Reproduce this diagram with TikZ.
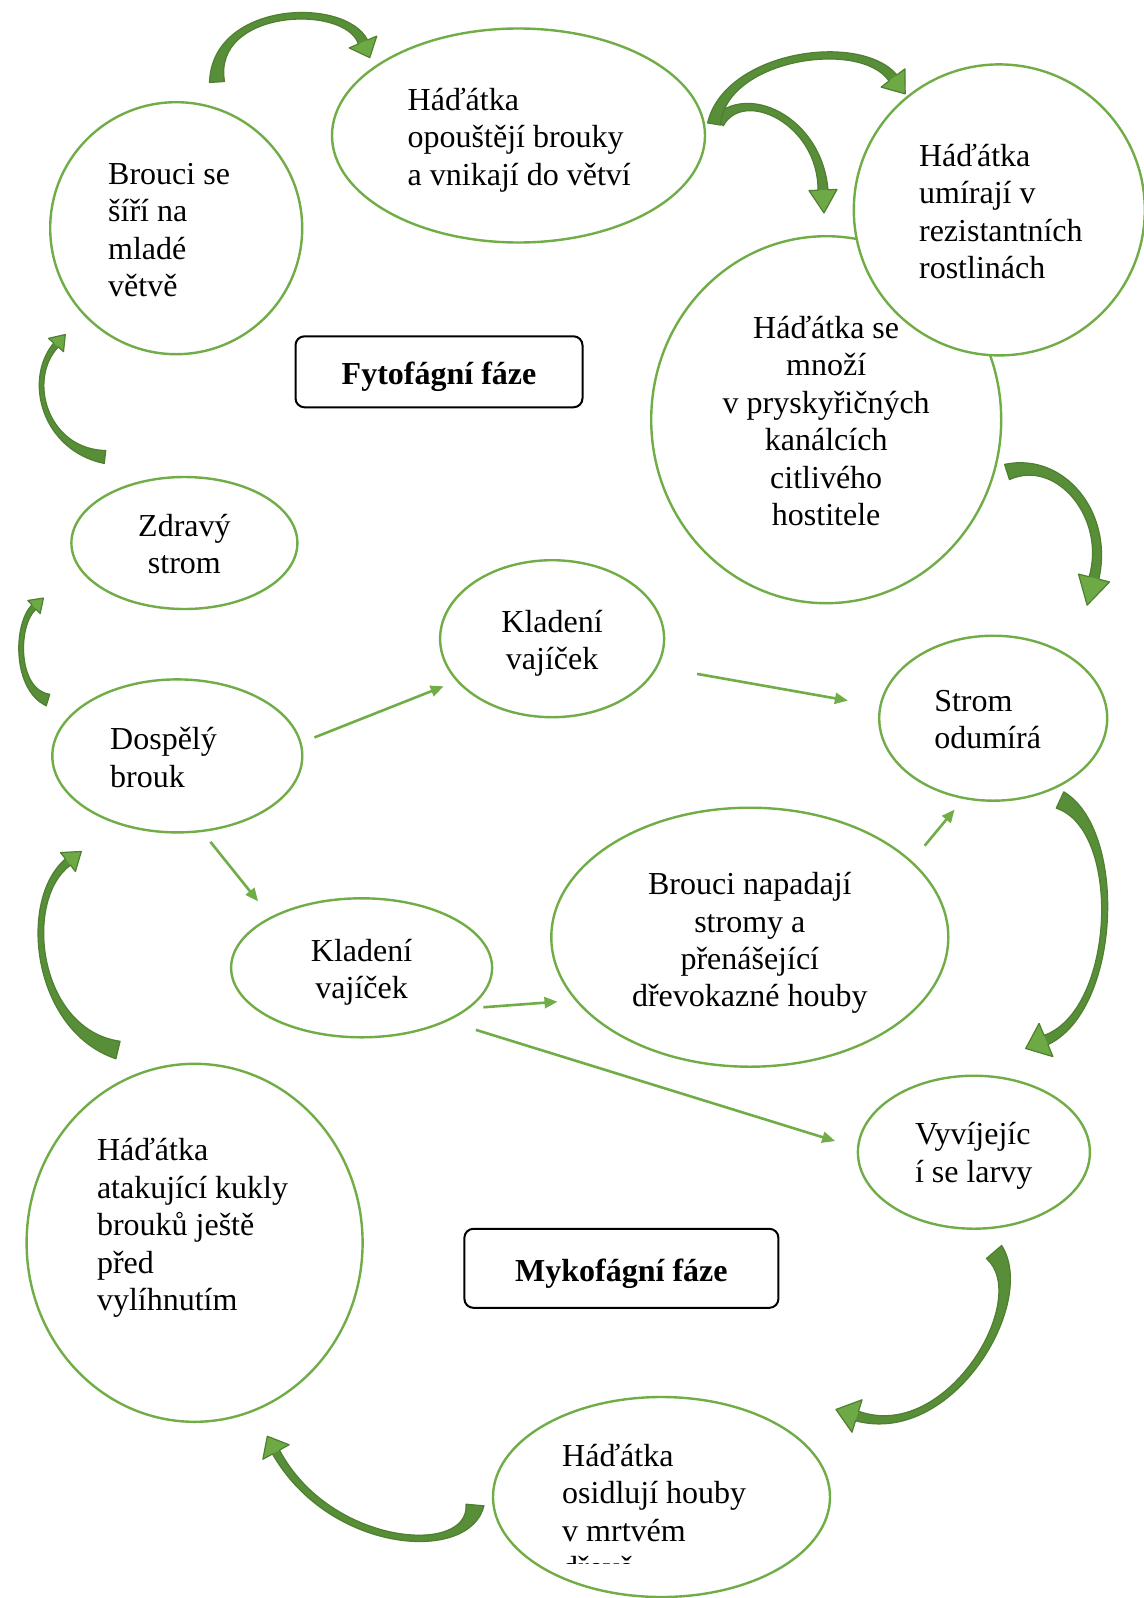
\documentclass[tikz,border=0pt]{standalone}
\usepackage{fontspec}
\setmainfont{Liberation Serif}
\usetikzlibrary{shapes.geometric,arrows.meta,calc}
\definecolor{lg}{HTML}{70AD47}
\definecolor{dg}{HTML}{578E37}
\definecolor{hg}{HTML}{6DAA45}
\definecolor{eg}{HTML}{4F7F30}
\tikzset{
 ell/.style={ellipse, draw=lg, line width=2.4pt, fill=white, inner sep=0pt, outer sep=0pt},
 txt/.style={inner sep=0pt, font=\fontsize{32}{37.4}\selectfont},
 phase/.style={draw=black, line width=2pt, rounded corners=9pt, inner sep=0pt, text height=26.5pt, text depth=0.5pt, font=\fontsize{32}{36}\selectfont\bfseries},
 conn/.style={draw=lg, line width=2.6pt, -{Triangle[length=13pt,width=11pt]}},
 bodyfill/.style={fill=dg},
 headfill/.style={fill=hg},
 arrowline/.style={draw=eg, line width=1.2pt, line join=round},
}
% curved block arrow: start, c1, c2, head base, tail half width, neck half width, head half width, head length, middle half width
\newcommand\crv[9]{%
  \def\crvpath{($(#1)!#5!90:(#2)$) .. controls ($(#2)!#9!90:(#3)$) and ($(#3)!#9!-90:(#2)$) .. ($(#4)!#6!-90:(#3)$)
   -- ($(#4)!#7!-90:(#3)$) -- ($(#4)!-#8!(#3)$) -- ($(#4)!#7!90:(#3)$) -- ($(#4)!#6!90:(#3)$)
   .. controls ($(#3)!#9!90:(#2)$) and ($(#2)!#9!-90:(#3)$) .. ($(#1)!#5!-90:(#2)$) -- cycle}%
  \fill[bodyfill] \crvpath;
  \fill[headfill] ($(#4)!#7!-90:(#3)$) -- ($(#4)!-#8!(#3)$) -- ($(#4)!#7!90:(#3)$) -- cycle;
  \draw[arrowline] \crvpath;
}
\begin{document}
\begin{tikzpicture}[x=1pt,y=-1pt]
\useasboundingbox (0,0) rectangle (1143,1598);
\fill[white] (0,0) rectangle (1143,1598);

% ellipses
\node[ell, minimum width=252pt, minimum height=252pt] (e1) at (176.2,228.2) {};
\node[ell, minimum width=373pt, minimum height=214pt] (e2) at (518.5,135.5) {};
\node[ell, minimum width=350pt, minimum height=367pt] (e4) at (826.2,419.7) {};
\node[ell, minimum width=291pt, minimum height=291pt] (e3) at (999.3,209.9) {};
\node[phase, minimum width=287pt, minimum height=71pt] (p1) at (439,371.8) {Fytofágní fáze};
\node[ell, minimum width=226pt, minimum height=132pt] (e6) at (184.4,543) {};
\node[ell, minimum width=224pt, minimum height=157pt] (e7) at (552.1,638.7) {};
\node[ell, minimum width=228pt, minimum height=165pt] (e8) at (993.2,718.2) {};
\node[ell, minimum width=250pt, minimum height=153pt] (e9) at (177.3,755.9) {};
\node[ell, minimum width=261pt, minimum height=139pt] (e10) at (361.6,967.8) {};
\node[ell, minimum width=397pt, minimum height=259pt] (e11) at (749.8,937.2) {};
\node[ell, minimum width=232pt, minimum height=153pt] (e12) at (973.9,1152.2) {};
\node[ell, minimum width=336pt, minimum height=358pt] (e13) at (194.6,1242.8) {};
\node[phase, minimum width=314pt, minimum height=79pt] (p2) at (621.4,1268.3) {Mykofágní fáze};
\node[ell, minimum width=337pt, minimum height=200pt] (e15) at (661.5,1497) {};

% texts
\node[txt, anchor=west, align=left] (t1) at (108,230) {Brouci se\\šíří na\\mladé\\větvě};
\node[txt, anchor=west, align=left] (t2) at (407.5,140) {Háďátka\\opouštějí brouky\\a vnikají do větví};
\node[txt, anchor=west, align=left] (t3) at (918.9,211.5) {Háďátka\\umírají v\\rezistantních\\rostlinách};
\node[txt, align=center] (t4) at (826.2,421) {Háďátka se\\množí\\v pryskyřičných\\kanálcích\\citlivého\\hostitele};
\node[txt, align=center] (t6) at (184.4,544) {Zdravý\\strom};
\node[txt, align=center] (t7) at (552.1,643.5) {Kladení\\vajíček};
\node[txt, anchor=west, align=left] (t8) at (934.1,719.5) {Strom\\odumírá};
\node[txt, anchor=west, align=left] (t9) at (110,757.4) {Dospělý\\brouk};
\node[txt, align=center] (t10) at (361.6,972.5) {Kladení\\vajíček};
\node[txt, align=center] (t11) at (749.8,943.2) {Brouci napadají\\stromy a\\přenášející\\dřevokazné houby};
\node[txt, anchor=west, align=left] (t12) at (914.8,1156) {Vyvíjejíc\\í se larvy};
\node[txt, anchor=west, align=left] (t13) at (96.8,1228) {Háďátka\\atakující kukly\\brouků ještě\\před\\vylíhnutím};
\begin{scope}
\clip (480,1390) rectangle (840,1563);
\node[txt, anchor=north west, align=left] (t15) at (562,1444) {Háďátka\\osidlují houby\\v mrtvém\\dřevě};
\end{scope}

% straight connectors
\draw[conn, shorten <=15pt, shorten >=15pt] (e9.6) -- (e7.204);
\draw[conn, shorten <=41pt, shorten >=33pt] (e7.-15) -- (e8.174);
\draw[conn, shorten <=14pt, shorten >=21pt] (e9.-72) -- (e10.151);
\draw[conn, shorten <=16pt, shorten >=19pt] (e10.-21) -- (e11.200);
\draw[conn, shorten <=31pt, shorten >=24pt] (e10.-32) -- (e12.178);
\draw[conn, shorten <=21pt, shorten >=15pt] (e11.25) -- (e8.250);

% curved block arrows
\crv{217,82}{212,5}{345,0}{363,42}{7.5pt}{5pt}{15pt}{17pt}{4pt}
\crv{718,122}{745,85}{820,120}{823,190}{6.5pt}{5pt}{14pt}{23pt}{4pt}
\crv{714,124}{725,55}{860,35}{893,78}{6.5pt}{5pt}{15pt}{20pt}{4pt}
\crv{1007,472}{1060,455}{1110,515}{1094,578}{8pt}{5pt}{16pt}{28pt}{5pt}
\crv{1060,800}{1125,830}{1118,1010}{1046,1040}{9pt}{5pt}{18pt}{22pt}{3pt}
\crv{994,1252}{1035,1300}{950,1445}{857,1416}{10pt}{5pt}{17pt}{22pt}{4pt}
\crv{475,1505}{470,1560}{330,1550}{276,1452}{9pt}{4pt}{15pt}{18pt}{4pt}
\crv{118,1050}{35,1030}{20,900}{68,862}{9pt}{4pt}{12pt}{17pt}{3pt}
\crv{48,700}{15,690}{15,625}{34,607}{6pt}{3pt}{9pt}{13pt}{2.5pt}
\crv{105,457}{45,450}{25,380}{56,345}{6.5pt}{3pt}{10pt}{14pt}{2.5pt}
\end{tikzpicture}
\end{document}
